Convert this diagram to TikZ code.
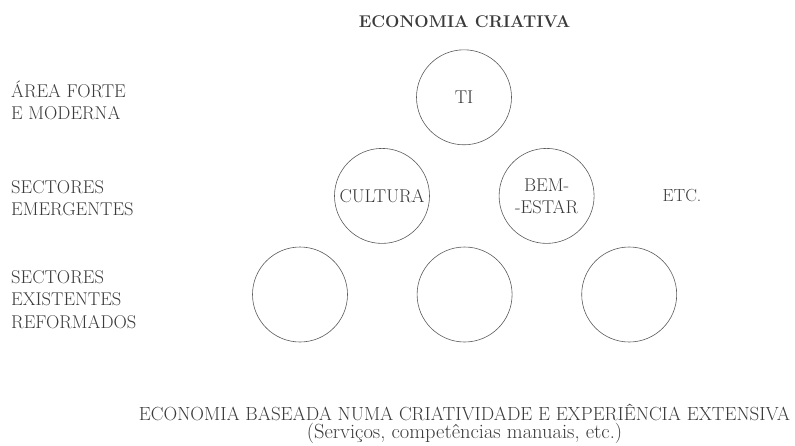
\documentclass[tikz,border=0pt]{standalone}
\usepackage{fontspec}
\usepackage{xcolor}
\usetikzlibrary{positioning}
\definecolor{inkgray}{HTML}{3A3A3A}
\definecolor{linegray}{HTML}{5A5A5A}

\begin{document}
\begin{tikzpicture}[x=1pt, y=-1pt,
sector/.style={circle, draw=linegray, line width=0.6pt, minimum size=95pt, inner sep=0pt, text=inkgray, align=center, font=\fontsize{18.5}{22}\selectfont},
rowlabel/.style={anchor=west, inner sep=0pt, text=inkgray, align=left, font=\fontsize{18.5}{22.5}\selectfont},
]
\useasboundingbox (0,0) rectangle (795,445);

%Title
\node[anchor=base, inner sep=0pt, text=inkgray, font=\bfseries\fontsize{17}{20}\selectfont] (title) at (464.5,27) {ECONOMIA CRIATIVA};

%Bottom row circles
\node[sector] (c31) at (300,294.5) {};
\node[sector] (c32) [right=69pt of c31] {};
\node[sector] (c33) [right=69pt of c32] {};

%Middle row circles
\node[sector] (c21) [above=3pt of c31, xshift=82pt] {CULTURA};
\node[sector] (c22) [above=3pt of c32, xshift=82pt] {BEM-\\-ESTAR};

%Top circle
\node[sector] (c11) [above=3pt of c21, xshift=82pt] {TI};

%Etc
\node[inner sep=0pt, text=inkgray, font=\fontsize{17.5}{22}\selectfont] (etc) [right=68pt of c22] {ETC.};

%Row labels
\node[rowlabel] (label_1) at (11,100.5) {ÁREA FORTE\\E MODERNA};
\node[rowlabel] (label_2) at (11,198) {SECTORES\\EMERGENTES};
\node[rowlabel] (label_3) at (11,299.5) {SECTORES\\EXISTENTES\\REFORMADOS};

%Base
\node[anchor=south, inner sep=0pt, align=center, text=inkgray, font=\fontsize{19}{18.5}\selectfont] (base) at (464.5,444) {ECONOMIA BASEADA NUMA CRIATIVIDADE E EXPERIÊNCIA EXTENSIVA\\\fontsize{20.5}{18.5}\selectfont(Serviços, competências manuais, etc.)};
\end{tikzpicture}
\end{document}
